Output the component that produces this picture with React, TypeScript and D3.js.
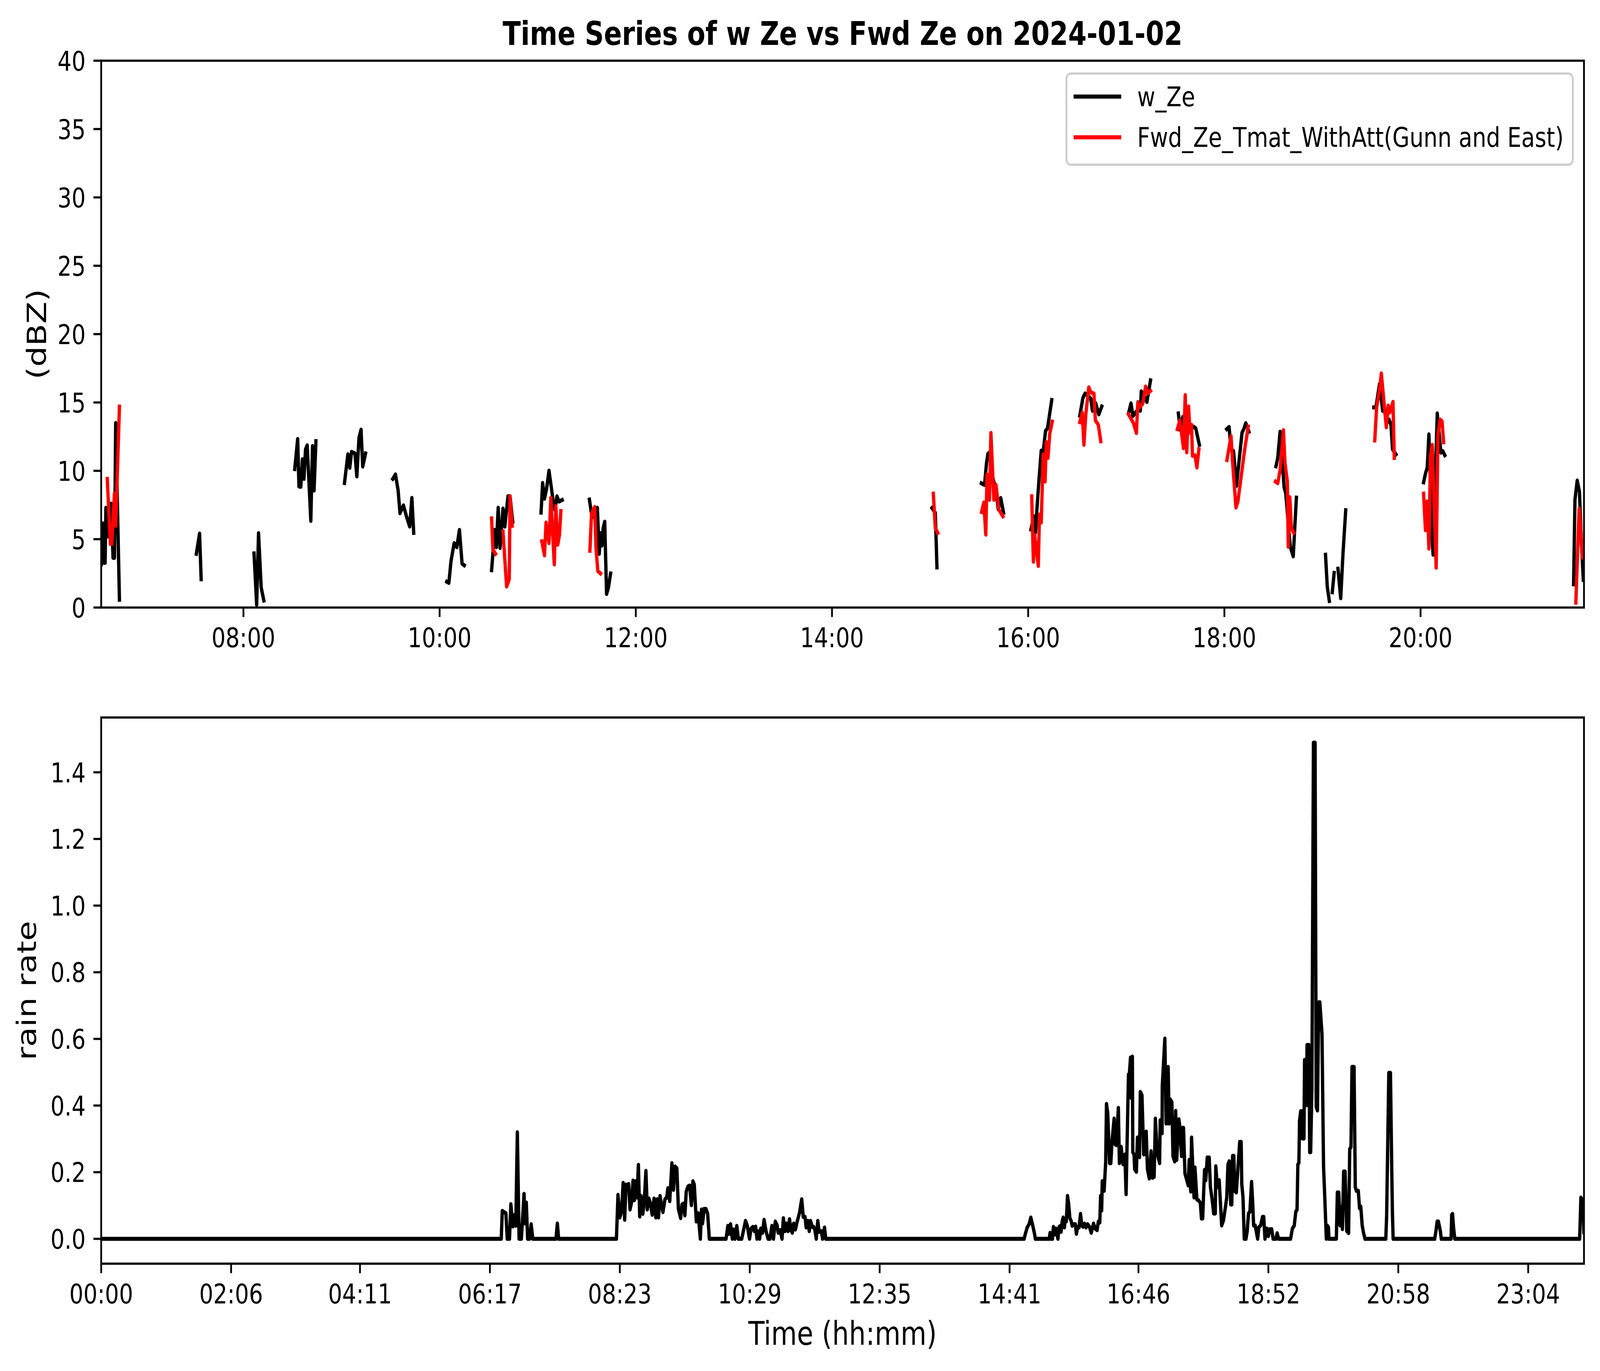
import React, { useEffect } from 'react';
import * as d3 from 'd3';

const W = 5017;
const H = 3510;

// ---------- Top panel data (hours, dBZ); null separates segments ----------
const wZeHours: (number | null)[] = [
  6.550, 6.563, 6.577, 6.590, 6.598, 6.612, 6.631, 6.650, 6.671, 6.685, 6.698, 6.736, null,
  7.520, 7.553, 7.569, null,
  8.108, 8.135, 8.154, 8.181, 8.208, null,
  8.523, 8.553, 8.566, 8.585, 8.601, 8.617, 8.633, 8.650, 8.687, 8.704, 8.720, 8.739, null,
  9.030, 9.065, 9.084, 9.102, 9.137, 9.156, 9.178, 9.199, 9.216, 9.245, null,
  9.523, 9.550, 9.577, 9.596, 9.631, 9.663, 9.695, 9.717, 9.736, null,
  10.073, 10.094, 10.116, 10.148, 10.175, 10.202, 10.229, 10.251, null,
  10.530, 10.562, 10.578, 10.597, 10.616, 10.646, 10.665, 10.697, 10.718, 10.745, null,
  11.034, 11.050, 11.069, 11.090, 11.115, 11.158, 11.177, 11.196, 11.217, 11.249, null,
  11.527, 11.554, 11.608, 11.627, 11.640, 11.654, 11.667, 11.683, 11.702, 11.721, 11.743, null,
  15.020, 15.053, 15.070, null,
  15.523, 15.555, 15.575, 15.590, 15.605, 15.630, 15.655, 15.675, 15.695, 15.720, 15.749, null,
  16.028, 16.058, 16.073, 16.108, 16.133, 16.153, 16.177, 16.197, 16.240, null,
  16.526, 16.558, 16.580, 16.613, 16.638, 16.655, 16.687, 16.720, 16.750, null,
  17.023, 17.048, 17.068, 17.123, 17.143, 17.153, 17.185, 17.210, 17.247, null,
  17.531, 17.551, 17.576, 17.620, 17.645, 17.683, 17.708, 17.745, null,
  18.024, 18.048, 18.068, 18.093, 18.123, 18.180, 18.198, 18.218, 18.250, null,
  18.526, 18.544, 18.568, 18.609, 18.625, 18.672, 18.702, 18.734, null,
  19.031, 19.049, 19.070, null,
  19.100, 19.119, null,
  19.158, 19.186, 19.209, 19.237, null,
  19.524, 19.545, 19.582, 19.614, 19.633, 19.656, 19.679, 19.698, 19.714, 19.749, null,
  20.031, 20.050, 20.068, 20.085, 20.115, 20.128, 20.170, 20.207, 20.226, 20.247, null,
  21.560, 21.574, 21.597, 21.620, 21.636, 21.659,
];
const wZeDbz: (number | null)[] = [
  3.15, 6.16, 3.27, 3.27, 7.30, 5.20, 5.20, 7.60, 3.63, 3.63, 13.50, 0.57, null,
  3.93, 5.41, 2.07, null,
  3.96, 0.20, 5.44, 1.47, 0.51, null,
  10.13, 12.33, 8.86, 8.83, 10.85, 9.41, 11.57, 11.87, 6.34, 11.81, 8.56, 12.17, null,
  9.11, 11.21, 10.22, 11.39, 11.27, 9.59, 12.41, 13.01, 10.31, 11.27, null,
  9.41, 9.74, 8.56, 6.90, 7.48, 6.64, 5.92, 8.02, 5.46, null,
  1.89, 1.80, 3.39, 4.71, 4.41, 5.68, 3.21, 3.09, null,
  2.73, 5.68, 4.41, 7.30, 4.35, 7.24, 5.92, 8.14, 8.14, 6.28, null,
  6.94, 9.11, 7.96, 8.68, 10.01, 7.78, 7.12, 8.14, 7.75, 7.87, null,
  7.90, 6.58, 7.30, 3.93, 5.44, 4.53, 5.80, 6.28, 0.99, 1.47, 2.49, null,
  7.28, 6.93, 2.93, null,
  9.09, 8.97, 10.56, 11.26, 11.33, 9.80, 9.03, 8.39, 7.18, 8.01, 6.93, null,
  5.71, 6.67, 5.46, 9.16, 11.48, 11.39, 12.92, 13.11, 15.18, null,
  14.03, 15.34, 15.66, 15.47, 15.28, 14.39, 14.96, 14.13, 14.71, null,
  14.20, 14.94, 14.01, 14.52, 14.39, 15.82, 15.41, 15.03, 16.62, null,
  14.20, 12.98, 13.94, 12.98, 12.86, 13.24, 13.11, 11.90, null,
  13.05, 13.21, 11.58, 11.45, 8.90, 12.79, 13.05, 13.49, 12.86, null,
  10.33, 10.94, 12.86, 8.78, 8.39, 4.44, 3.74, 8.04, null,
  3.86, 1.51, 0.48, null,
  1.12, 2.53, null,
  2.84, 0.68, 3.93, 7.12, null,
  14.64, 14.64, 16.36, 14.39, 14.39, 13.49, 13.75, 13.37, 11.58, 11.20, null,
  9.16, 9.80, 10.24, 12.67, 5.33, 3.86, 14.20, 11.33, 11.45, 11.14, null,
  1.70, 7.88, 9.29, 8.46, 5.33, 2.02,
];

const fwdZeHours: (number | null)[] = [
  6.612, 6.644, 6.658, 6.685, 6.698, 6.736, null,
  10.530, 10.543, 10.570, null,
  10.646, 10.683, 10.710, 10.718, 10.740, null,
  11.042, 11.069, 11.085, 11.115, 11.134, 11.169, 11.185, 11.204, 11.222, 11.236, null,
  11.532, 11.549, 11.581, 11.594, 11.613, 11.640, null,
  15.033, 15.053, 15.078, null,
  15.525, 15.548, 15.568, 15.580, 15.605, 15.620, 15.650, 15.672, 15.700, 15.742, null,
  16.036, 16.053, 16.065, 16.103, 16.115, 16.133, 16.153, 16.172, 16.185, 16.202, 16.220, 16.245, null,
  16.526, 16.551, 16.568, 16.588, 16.618, 16.638, 16.670, 16.685, 16.715, 16.740, null,
  17.023, 17.073, 17.103, 17.118, 17.135, 17.168, 17.197, 17.217, 17.247, null,
  17.521, 17.546, 17.583, 17.601, 17.616, 17.635, 17.650, 17.665, 17.675, 17.700, 17.720, 17.740, null,
  18.026, 18.048, 18.068, 18.083, 18.118, 18.138, 18.205, 18.243, null,
  18.521, 18.544, 18.568, 18.602, 18.618, 18.642, 18.651, 18.667, 18.683, 18.706, null,
  19.533, 19.552, 19.582, 19.600, 19.651, 19.670, 19.686, 19.719, 19.732, null,
  20.031, 20.050, 20.068, 20.085, 20.101, 20.119, 20.159, 20.177, 20.200, 20.219, 20.235, null,
  21.583, 21.601, 21.617, 21.636, 21.648,
];
const fwdZeDbz: (number | null)[] = [
  9.41, 4.65, 4.65, 8.32, 5.98, 14.70, null,
  6.52, 4.23, 3.93, null,
  5.56, 1.53, 2.07, 8.14, 5.98, null,
  4.84, 3.81, 6.22, 4.71, 8.02, 3.15, 7.42, 4.59, 5.32, 7.06, null,
  4.15, 6.88, 7.36, 4.35, 2.67, 2.49, null,
  8.33, 5.84, 5.46, null,
  6.99, 7.69, 5.33, 9.73, 7.88, 12.77, 7.88, 8.97, 7.18, 6.67, null,
  8.14, 3.35, 5.33, 3.04, 6.80, 6.22, 11.20, 9.22, 12.09, 10.94, 12.73, 13.60, null,
  13.56, 14.26, 11.90, 14.20, 16.11, 15.73, 15.66, 13.69, 13.37, 12.16, null,
  14.13, 13.49, 12.76, 15.03, 14.64, 14.90, 16.17, 15.66, 15.85, null,
  13.05, 13.69, 11.65, 15.54, 11.35, 14.71, 12.79, 13.37, 11.10, 11.14, 10.24, 11.58, null,
  10.79, 11.71, 12.54, 10.69, 7.31, 7.76, 11.45, 13.24, null,
  9.22, 9.09, 10.05, 12.98, 10.56, 9.22, 4.44, 8.07, 5.84, 5.46, null,
  12.22, 14.64, 15.92, 17.13, 13.18, 14.77, 14.26, 15.05, 10.94, null,
  8.33, 5.65, 7.76, 4.31, 11.07, 11.90, 2.91, 12.60, 13.75, 13.62, 12.09, null,
  0.36, 4.06, 7.24, 5.33, 3.67,
];

// ---------- Bottom panel data (minutes since 00:00, rain rate) ----------
const rainMinutes: number[] = [
  0, 388.0, 389.0, 390.8, 392.5, 393.8, 396.0, 397.3, 399.2, 401.0, 402.1, 403.6, 405.3, 407.5, 410.1, 411.2, 412.3, 413.6, 415.5, 417.0, 418.6,
  441.1, 442.4, 443.7,
  499.7, 501.2, 503.0, 504.7, 506.2, 507.7, 509.0, 510.6, 511.6, 512.9, 514.5, 515.8, 517.1, 518.4, 519.7, 521.0, 522.3, 523.6, 525.3, 526.6,
  528.3, 529.6, 531.2, 532.7, 534.4, 536.2, 537.9, 539.2, 540.5, 542.0, 544.8, 546.8, 548.5, 549.6, 551.4, 553.5, 555.0, 556.6, 558.3, 559.8,
  562.0, 563.3, 564.8, 566.1, 567.4, 569.1, 570.7, 572.4, 573.9, 575.2, 577.2, 578.9, 581.1, 582.2, 583.2, 584.8, 586.5, 588.2, 589.8,
  606.0, 607.8, 609.0, 610.4, 612.1, 613.2, 614.7, 616.4, 618.0, 621.2, 623.0, 624.9, 626.6, 628.8, 630.3, 632.1, 633.4, 634.7, 636.0, 637.1,
  638.6, 639.7, 641.4, 642.9, 644.8, 646.8, 648.6, 650.5, 652.0, 653.8, 655.5, 656.6, 658.5, 660.3, 661.6, 663.1, 664.6, 666.1, 667.6, 669.0,
  670.3, 671.6, 673.3, 675.0, 677.2, 679.4, 680.9, 682.6, 683.7, 685.4, 686.7, 688.0, 689.6, 691.0, 692.2, 693.5, 695.0, 696.3, 698.5, 699.6,
  701.5, 702.8,
  895.1, 896.3, 898.1, 899.9, 901.6, 903.4, 905.2, 906.0, 919.4, 920.3, 921.2, 922.6, 923.5, 925.0, 925.9, 927.9, 929.1, 930.3, 930.9, 932.1,
  933.0, 934.2, 934.8, 936.0, 937.2, 938.3, 939.5, 940.7, 941.7, 943.1, 944.8, 945.8, 947.0, 948.4, 949.8, 951.0, 952.2, 953.7, 955.1, 956.7,
  958.5, 960.2, 962.4, 964.0, 965.9, 967.1, 968.5, 969.3, 970.3, 970.9, 972.7, 974.2, 975.0, 976.2, 978.0, 979.2, 980.4, 982.4, 983.3, 984.5,
  986.5, 987.5, 989.2, 991.0, 992.8, 994.0, 996.3, 997.2, 998.3, 998.9, 1000.1, 1000.5, 1001.7, 1002.3, 1004.0, 1005.0, 1005.8, 1007.0, 1007.8,
  1009.4, 1011.1, 1012.3, 1013.5, 1014.7, 1016.5, 1018.2, 1019.7, 1021.2, 1022.4, 1024.1, 1026.5, 1027.1, 1028.9, 1029.1, 1031.6, 1032.8,
  1034.2, 1034.8, 1035.8, 1036.9, 1038.4, 1039.5, 1041.1, 1042.1, 1043.1, 1045.2, 1046.2, 1047.8, 1048.8, 1049.7, 1051.1, 1054.3, 1055.2,
  1056.7, 1057.5, 1059.9, 1060.8,
  1062.7, 1064.4, 1066.0, 1067.1, 1068.3, 1069.1, 1070.1, 1071.3, 1072.7, 1074.6, 1075.8, 1077.2, 1079.0, 1080.5, 1081.0, 1082.5, 1084.3,
  1085.5, 1086.7, 1088.4, 1090.2, 1091.6, 1092.8, 1094.0, 1095.5, 1096.5, 1097.3, 1098.5, 1099.4, 1100.9, 1102.6, 1104.2, 1105.6, 1106.2,
  1107.4, 1108.6, 1110.3, 1111.5, 1112.7, 1114.1, 1115.7, 1116.8, 1117.7, 1119.2, 1121.6, 1122.8, 1124.5, 1126.3, 1127.5, 1128.7, 1130.5,
  1132.0, 1133.4, 1135.2, 1136.6, 1139.3, 1140.5, 1141.9, 1153.5, 1155.3, 1157.1, 1158.6, 1159.8, 1160.6, 1161.6, 1162.2, 1163.4, 1164.5,
  1165.0, 1166.5, 1167.1, 1168.0, 1168.9, 1169.5, 1171.3, 1172.1, 1173.0, 1174.2, 1175.7, 1177.3, 1178.4, 1179.6, 1180.8, 1181.9, 1184.0,
  1185.5, 1186.7, 1188.2, 1189.0, 1190.2, 1190.8, 1197.9, 1198.9, 1200.3, 1201.5, 1202.9, 1203.8, 1205.0, 1206.4, 1208.0, 1209.8, 1210.9,
  1212.1, 1213.1, 1215.1, 1216.3, 1217.4, 1219.2, 1220.4, 1221.6, 1223.0, 1224.2, 1225.7,
  1245.9, 1246.7, 1248.8, 1250.4, 1251.6, 1252.3, 1253.0,
  1293.3, 1294.5, 1295.7, 1296.9, 1298.8, 1299.7, 1309.2, 1309.8, 1310.6, 1311.6, 1312.8,
  1433.9, 1435.1, 1437.0, 1438.0,
];
const rainRate: number[] = [
  0, 0, 0.084, 0.080, 0.077, 0, 0, 0.104, 0.037, 0.072, 0.039, 0.320, 0, 0, 0.135, 0.046, 0.109, 0, 0, 0.044, 0,
  0, 0.046, 0,
  0, 0.132, 0.064, 0.083, 0.168, 0.057, 0.163, 0.160, 0.165, 0.088, 0.111, 0.175, 0.116, 0.173, 0.124, 0.222, 0.067, 0.129, 0.075, 0.108,
  0.204, 0.088, 0.121, 0.106, 0.072, 0.121, 0.064, 0.119, 0.064, 0.129, 0.080, 0.119, 0.124, 0.152, 0.113, 0.227, 0.147, 0.217, 0.212, 0.090,
  0.062, 0.103, 0.106, 0.070, 0.142, 0.157, 0.160, 0.101, 0.173, 0.163, 0.052, 0.077, 0, 0.088, 0.046, 0.090, 0.090, 0.075, 0,
  0, 0.039, 0.015, 0.044, 0, 0.028, 0, 0.039, 0, 0, 0.026, 0.054, 0.039, 0, 0.031, 0.036, 0.023, 0.037, 0, 0.023,
  0, 0.031, 0.018, 0.057, 0.023, 0, 0, 0.039, 0, 0.052, 0.041, 0.018, 0.026, 0, 0.062, 0.023, 0.046, 0.023, 0.059, 0.026,
  0.018, 0.046, 0.028, 0.052, 0.077, 0.119, 0.066, 0.066, 0.034, 0.054, 0.023, 0.054, 0.036, 0.036, 0.026, 0, 0.054, 0.021, 0.023, 0,
  0.034, 0,
  0, 0.015, 0.034, 0.044, 0.064, 0.041, 0.015, 0, 0, 0.018, 0, 0, 0.036, 0.013, 0.031, 0, 0.036, 0.039, 0.021, 0.054,
  0.064, 0.034, 0.054, 0.052, 0.129, 0.105, 0.062, 0.054, 0.039, 0.044, 0.044, 0.015, 0.036, 0.034, 0.075, 0.041, 0.036, 0.046, 0.034, 0.044,
  0.036, 0.018, 0.046, 0.031, 0.026, 0.052, 0.049, 0.129, 0.085, 0.173, 0.144, 0.230, 0.405, 0.377, 0.227, 0.227, 0.294, 0.361, 0.284, 0.281,
  0.393, 0.227, 0.276, 0.224, 0.253, 0.134, 0.493, 0.495, 0.544, 0.423, 0.547, 0.260, 0.253, 0.209, 0.201, 0.304, 0.304, 0.245, 0.441,
  0.431, 0.253, 0.256, 0.322, 0.209, 0.181, 0.263, 0.183, 0.186, 0.361, 0.258, 0.227, 0.356, 0.317, 0.459, 0.601, 0.346,
  0.347, 0.516, 0.346, 0.418, 0.410, 0.248, 0.232, 0.384, 0.237, 0.359, 0.335, 0.248, 0.333, 0.333, 0.196, 0.160, 0.237,
  0.142, 0.304, 0.124, 0.214,
  0.118, 0.115, 0.108, 0.061, 0.061, 0.129, 0.207, 0.176, 0.244, 0.244, 0.155, 0.124, 0.076, 0.076, 0.218, 0.155, 0.176,
  0.108, 0.040, 0.055, 0.092, 0.124, 0.223, 0.233, 0.103, 0.103, 0.249, 0.249, 0.144, 0.139, 0.218, 0.291, 0.291, 0.165,
  0.124, 0, 0, 0.024, 0.076, 0.082, 0.171, 0.108, 0.040, 0.040, 0, 0.035, 0.040, 0.066, 0.066, 0, 0.031,
  0.008, 0.029, 0.029, 0, 0, 0.017, 0, 0, 0.031, 0.040, 0.082, 0.087, 0.223, 0.228, 0.354, 0.383, 0.383,
  0.301, 0.301, 0.537, 0.537, 0.401, 0.582, 0.582, 0.260, 0.260, 0.448, 1.489, 1.489, 0.396, 0.385, 0.710, 0.710, 0.615,
  0.218, 0.124, 0, 0.040, 0.035, 0, 0, 0.139, 0.139, 0.040, 0.097, 0.029, 0.202, 0.202, 0.024, 0.017, 0.270,
  0.275, 0.516, 0.516, 0.155, 0.144, 0.144, 0.092, 0.097, 0.040, 0.019, 0,
  0, 0.070, 0.498, 0.498, 0.220, 0.080, 0,
  0, 0.023, 0.052, 0.052, 0.023, 0, 0, 0.072, 0.075, 0.034, 0,
  0, 0.124, 0.113, 0.020,
];

// ---------- Axis ticks ----------
const topXTickHours = [8, 10, 12, 14, 16, 18, 20];
const topXTickLabels = ['08:00', '10:00', '12:00', '14:00', '16:00', '18:00', '20:00'];
const topYTicks = [0, 5, 10, 15, 20, 25, 30, 35, 40];
const bottomXTickLabels = ['00:00', '02:06', '04:11', '06:17', '08:23', '10:29', '12:35', '14:41', '16:46', '18:52', '20:58', '23:04'];
const bottomYTicks = [0.0, 0.2, 0.4, 0.6, 0.8, 1.0, 1.2, 1.4];

const titleText = 'Time Series of w Ze vs Fwd Ze on 2024-01-02';
const legendLabels = ['w_Ze', 'Fwd_Ze_Tmat_WithAtt(Gunn and East)'];
const seriesColors = ['#000000', '#ff0000'];

// ---------- Layout ----------
const FONT = "'DejaVu Sans', 'Liberation Sans', sans-serif";
const TICK_FS = 69.4;
const LABEL_FS = 83.3;
const SPINE_W = 5.6;
const TICK_LEN = 24.3;
const LINE_W = 10.4;

const topBox = { left: 317.3, right: 4966.8, top: 155.4, bottom: 1555.4 };
const botBox = { left: 317.3, right: 4966.8, top: 1836.9, bottom: 3235.2 };

function toMinutes(s: string) {
  const [h, m] = s.split(':').map(Number);
  return h * 60 + m;
}

export default function App() {
  useEffect(() => {
    document.body.style.margin = '0';
    document.body.style.overflow = 'hidden';
    document.documentElement.style.overflow = 'hidden';
  }, []);

  const xTop = d3.scaleLinear().domain([6.550, 21.666]).range([topBox.left, topBox.right]);
  const yTop = d3.scaleLinear().domain([0, 40]).range([topBox.bottom, topBox.top]);
  const xBot = d3.scaleLinear().domain([0, 1438.1]).range([botBox.left, botBox.right]);
  const yBot = d3.scaleLinear().domain([-0.0745, 1.5645]).range([botBox.bottom, botBox.top]);

  type P = [number | null, number | null];
  const lineTop = d3
    .line<P>()
    .defined((d) => d[0] != null && d[1] != null)
    .x((d) => xTop(d[0] as number))
    .y((d) => yTop(d[1] as number));
  const lineBot = d3
    .line<[number, number]>()
    .x((d) => xBot(d[0]))
    .y((d) => yBot(d[1]));

  const wZe: P[] = wZeHours.map((h, i) => [h, wZeDbz[i]]);
  const fwd: P[] = fwdZeHours.map((h, i) => [h, fwdZeDbz[i]]);
  const rain: [number, number][] = rainMinutes.map((m, i) => [m, rainRate[i]]);

  const lineProps = {
    fill: 'none',
    strokeWidth: LINE_W,
    strokeLinejoin: 'round' as const,
    strokeLinecap: 'square' as const,
  };

  const legendX = 3343.8;
  const legendY = 188.3;
  const legendW = 1587.8;
  const legendH = 233.4;
  const legendRows = [247.3, 351.5];

  return (
    <svg
      viewBox={`0 0 ${W} ${H}`}
      preserveAspectRatio="none"
      style={{ position: 'fixed', left: 0, top: 0, width: '100vw', height: '100vh', background: '#fff', display: 'block' }}
      fontFamily={FONT}
    >
      <rect x={0} y={0} width={W} height={H} fill="#ffffff" />
      <defs>
        <clipPath id="clipTop">
          <rect x={topBox.left} y={topBox.top} width={topBox.right - topBox.left} height={topBox.bottom - topBox.top} />
        </clipPath>
        <clipPath id="clipBot">
          <rect x={botBox.left} y={botBox.top} width={botBox.right - botBox.left} height={botBox.bottom - botBox.top} />
        </clipPath>
      </defs>

      {/* Title */}
      <text x={(topBox.left + topBox.right) / 2} y={115} textAnchor="middle" fontSize={LABEL_FS} fontWeight="bold">
        {titleText}
      </text>

      {/* ---------- Top panel ---------- */}
      <g clipPath="url(#clipTop)">
        <path d={lineTop(wZe) || ''} stroke={seriesColors[0]} {...lineProps} />
        <path d={lineTop(fwd) || ''} stroke={seriesColors[1]} {...lineProps} />
      </g>
      <rect
        x={topBox.left}
        y={topBox.top}
        width={topBox.right - topBox.left}
        height={topBox.bottom - topBox.top}
        fill="none"
        stroke="#000"
        strokeWidth={SPINE_W}
        strokeLinejoin="miter"
      />
      {topXTickHours.map((h, i) => (
        <g key={`tx${i}`}>
          <line x1={xTop(h)} x2={xTop(h)} y1={topBox.bottom} y2={topBox.bottom + TICK_LEN} stroke="#000" strokeWidth={SPINE_W} />
          <text x={xTop(h)} y={topBox.bottom + 102} textAnchor="middle" fontSize={TICK_FS}>
            {topXTickLabels[i]}
          </text>
        </g>
      ))}
      {topYTicks.map((v, i) => (
        <g key={`ty${i}`}>
          <line x1={topBox.left - TICK_LEN} x2={topBox.left} y1={yTop(v)} y2={yTop(v)} stroke="#000" strokeWidth={SPINE_W} />
          <text x={topBox.left - 2 * TICK_LEN} y={yTop(v) + 25.3} textAnchor="end" fontSize={TICK_FS}>
            {String(v)}
          </text>
        </g>
      ))}
      <text
        transform={`translate(144, ${(topBox.top + topBox.bottom) / 2}) rotate(-90)`}
        textAnchor="middle"
        fontSize={LABEL_FS}
      >
        (dBZ)
      </text>

      {/* Legend */}
      <g>
        <rect
          x={legendX}
          y={legendY}
          width={legendW}
          height={legendH}
          rx={13.9}
          ry={13.9}
          fill="#ffffff"
          fillOpacity={0.8}
          stroke="#cccccc"
          strokeWidth={SPINE_W}
        />
        {legendLabels.map((lab, i) => (
          <g key={`lg${i}`}>
            <line
              x1={3371.6}
              x2={3510.4}
              y1={legendRows[i]}
              y2={legendRows[i]}
              stroke={seriesColors[i]}
              strokeWidth={LINE_W}
              strokeLinecap="square"
            />
            <text x={3566} y={legendRows[i] + 25} fontSize={TICK_FS}>
              {lab}
            </text>
          </g>
        ))}
      </g>

      {/* ---------- Bottom panel ---------- */}
      <g clipPath="url(#clipBot)">
        <path d={lineBot(rain) || ''} stroke="#000000" {...lineProps} />
      </g>
      <rect
        x={botBox.left}
        y={botBox.top}
        width={botBox.right - botBox.left}
        height={botBox.bottom - botBox.top}
        fill="none"
        stroke="#000"
        strokeWidth={SPINE_W}
        strokeLinejoin="miter"
      />
      {bottomXTickLabels.map((lab, i) => {
        const x = xBot(toMinutes(lab));
        return (
          <g key={`bx${i}`}>
            <line x1={x} x2={x} y1={botBox.bottom} y2={botBox.bottom + TICK_LEN} stroke="#000" strokeWidth={SPINE_W} />
            <text x={x} y={botBox.bottom + 102} textAnchor="middle" fontSize={TICK_FS}>
              {lab}
            </text>
          </g>
        );
      })}
      {bottomYTicks.map((v, i) => (
        <g key={`by${i}`}>
          <line x1={botBox.left - TICK_LEN} x2={botBox.left} y1={yBot(v)} y2={yBot(v)} stroke="#000" strokeWidth={SPINE_W} />
          <text x={botBox.left - 2 * TICK_LEN} y={yBot(v) + 25.3} textAnchor="end" fontSize={TICK_FS}>
            {v.toFixed(1)}
          </text>
        </g>
      ))}
      <text
        transform={`translate(113, ${(botBox.top + botBox.bottom) / 2}) rotate(-90)`}
        textAnchor="middle"
        fontSize={LABEL_FS}
      >
        rain rate
      </text>
      <text x={(botBox.left + botBox.right) / 2} y={3443} textAnchor="middle" fontSize={LABEL_FS}>
        Time (hh:mm)
      </text>
    </svg>
  );
}
